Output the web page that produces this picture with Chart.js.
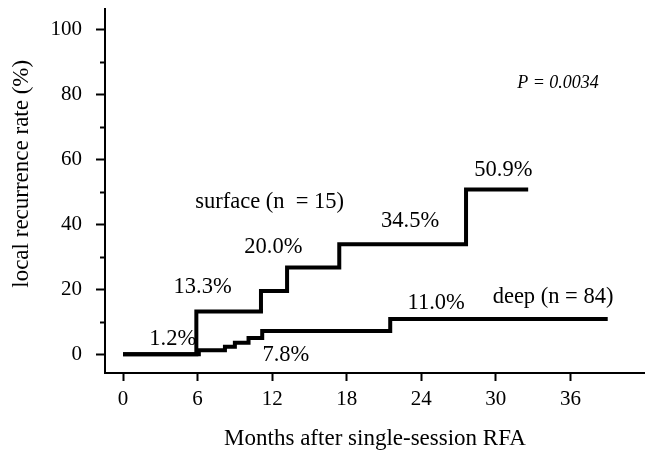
<!DOCTYPE html>
<html>
<head>
<meta charset="utf-8">
<script src="https://cdn.jsdelivr.net/npm/chart.js@4/dist/chart.umd.min.js"></script>
<style>
  html, body { margin: 0; padding: 0; background: #fff; }
  #wrap { width: 645px; height: 453px; }
</style>
</head>
<body>
<div id="wrap"><canvas id="km"></canvas></div>
<script>
// Kaplan-Meier style step curves (months, cumulative recurrence %)
const surfaceMonths = [0, 5.9, 11.1, 13.2, 17.4, 27.6, 32.6];
const surfaceRates  = [0, 13.1, 19.4, 26.7, 33.8, 50.7, 50.7];
const deepMonths = [0, 6.1, 8.2, 9.0, 10.1, 11.2, 21.5, 39.0];
const deepRates  = [0, 1.2, 2.3, 3.5, 5.0, 7.1, 10.8, 10.8];

const xTicks = [0, 6, 12, 18, 24, 30, 36];
const yTicks = [0, 20, 40, 60, 80, 100];
const yMinorTicks = [10, 30, 50, 70, 90];

// text notes, anchored in data units
const noteTexts  = ['1.2%', '7.8%', '13.3%', '20.0%', '34.5%', '50.9%', '11.0%', 'surface (n  = 15)', 'deep (n = 84)'];
const noteMonths = [4.0, 13.1, 6.4, 12.1, 23.1, 30.6, 25.2, 11.8, 34.6];
const noteRates  = [4.6, -0.3, 20.6, 33.0, 40.9, 56.6, 15.6, 46.9, 17.6];
const pText = 'P = 0.0034';
const pMonth = 35.0;
const pRate = 83.4;
const yTitle = 'local recurrence rate (%)';
const yTitleRate = 55.5; // where the rotated title is centred

const SERIF = '"Liberation Serif", "DejaVu Serif", serif';

const toPoints = (xs, ys) => xs.map((x, i) => ({ x, y: ys[i] }));

const notesPlugin = {
  id: 'notes',
  afterDraw(chart) {
    const { ctx, scales: { x, y } } = chart;
    ctx.save();
    // minor y ticks
    ctx.strokeStyle = '#000';
    ctx.lineWidth = 2;
    yMinorTicks.forEach(v => {
      const py = Math.round(y.getPixelForValue(v)) + 0.5;
      ctx.beginPath();
      ctx.moveTo(chart.chartArea.left - 5, py);
      ctx.lineTo(chart.chartArea.left, py);
      ctx.stroke();
    });
    ctx.fillStyle = '#000';
    ctx.textAlign = 'center';
    ctx.textBaseline = 'middle';
    ctx.font = '22.5px ' + SERIF;
    noteTexts.forEach((t, i) => {
      ctx.fillText(t, x.getPixelForValue(noteMonths[i]), y.getPixelForValue(noteRates[i]));
    });
    ctx.font = 'italic 18px ' + SERIF;
    ctx.fillText(pText, x.getPixelForValue(pMonth), y.getPixelForValue(pRate));
    // y axis title
    ctx.save();
    ctx.translate(22, y.getPixelForValue(yTitleRate));
    ctx.rotate(-Math.PI / 2);
    ctx.font = '23px ' + SERIF;
    ctx.fillText(yTitle, 0, 0);
    ctx.restore();
    ctx.restore();
  }
};

new Chart(document.getElementById('km'), {
  type: 'line',
  data: {
    datasets: [
      {
        label: 'surface',
        data: toPoints(surfaceMonths, surfaceRates),
        stepped: 'before',
        borderColor: '#000',
        borderWidth: 4,
        pointRadius: 0,
        fill: false,
      },
      {
        label: 'deep',
        data: toPoints(deepMonths, deepRates),
        stepped: 'before',
        borderColor: '#000',
        borderWidth: 4,
        pointRadius: 0,
        fill: false,
      },
    ],
  },
  options: {
    responsive: true,
    maintainAspectRatio: false,
    animation: false,
    layout: { padding: { top: 9, right: 0, bottom: 0, left: 0 } },
    plugins: {
      legend: { display: false },
      tooltip: { enabled: false },
    },
    scales: {
      x: {
        type: 'linear',
        min: -1.45,
        max: 42,
        afterBuildTicks: s => { s.ticks = xTicks.map(v => ({ value: v })); },
        afterFit: s => { s.height = 80; },
        border: { display: true, color: '#000', width: 2 },
        grid: { drawOnChartArea: false, drawTicks: true, tickLength: 8, tickColor: '#000', tickWidth: 2 },
        ticks: { color: '#000', padding: 6, font: { family: SERIF, size: 21 }, maxRotation: 0 },
        title: {
          display: true,
          text: 'Months after single-session RFA',
          color: '#000',
          font: { family: SERIF, size: 23 },
          padding: { top: 0, bottom: 0 },
        },
      },
      y: {
        type: 'linear',
        min: -5.8,
        max: 106.2,
        afterBuildTicks: s => { s.ticks = yTicks.map(v => ({ value: v })); },
        afterFit: s => { s.width = 105; s.paddingTop = 0; s.paddingBottom = 0; },
        border: { display: true, color: '#000', width: 2 },
        grid: { drawOnChartArea: false, drawTicks: true, tickLength: 9, tickColor: '#000', tickWidth: 2 },
        ticks: { color: '#000', padding: 14, font: { family: SERIF, size: 21 } },
      },
    },
  },
  plugins: [notesPlugin],
});
</script>
</body>
</html>
